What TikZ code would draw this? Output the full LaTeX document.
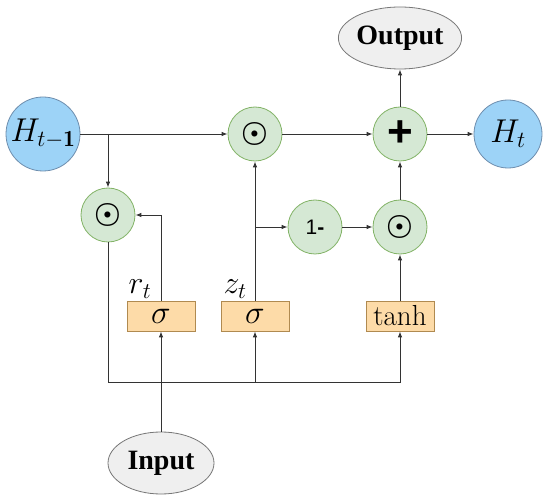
\RequirePackage{fix-cm}
\documentclass[tikz,border=0pt]{standalone}
\usepackage{amsmath,bm}
\usepackage{fontspec}
\newfontfamily\serifb{Liberation Serif}
\newfontfamily\sansf{Liberation Sans}
\usetikzlibrary{arrows.meta,shapes.geometric}
\definecolor{gfill}{HTML}{D5E8D4}
\definecolor{gdraw}{HTML}{82B366}
\definecolor{bfill}{HTML}{9DD3F7}
\definecolor{bdraw}{HTML}{6E8EAE}
\definecolor{ofill}{HTML}{FDDBA8}
\definecolor{odraw}{HTML}{B08A50}
\definecolor{efill}{HTML}{EFEFEF}
\definecolor{edraw}{HTML}{777777}
\definecolor{lcol}{HTML}{333333}
\begin{document}
\begin{tikzpicture}[x=1pt,y=-1pt,
  gc/.style={circle,draw=gdraw,fill=gfill,minimum size=54pt,inner sep=0pt,line width=0.8pt},
  bc/.style={circle,draw=bdraw,fill=bfill,inner sep=0pt,line width=0.8pt,font=\fontsize{33}{36}\selectfont},
  fbox/.style={rectangle,draw=odraw,fill=ofill,minimum width=68pt,minimum height=30pt,inner sep=0pt,line width=0.8pt,font=\fontsize{29}{30}\selectfont},
  sig/.style={font=\fontsize{33}{30}\selectfont},
  ell/.style={ellipse,draw=edraw,fill=efill,inner sep=0pt,line width=0.8pt,font=\serifb\bfseries\fontsize{28}{32}\selectfont},
  lab/.style={inner sep=0pt,font=\fontsize{32}{34}\selectfont},
  arr/.style={draw=lcol,line width=0.9pt,-{Latex[length=6pt,width=4.5pt]}},
  dotsym/.style={font=\fontsize{30}{30}\selectfont}]
\useasboundingbox (0,0) rectangle (550,500);
\fill[white] (0,0) rectangle (550,500);
% nodes
\node[bc,minimum size=74pt] (hp) at (43,134) {$H_{t-\mathbf{1}}$};
\node[gc,dotsym] (o1) at (255,134) {$\bm{\odot}$};
\node[gc,font=\sansf\bfseries\fontsize{44}{44}\selectfont] (pl) at (400,134) {+};
\node[bc,minimum size=68pt] (ht) at (508,134) {$H_t$};
\node[ell,minimum width=104pt,minimum height=62pt] (out) at (400,38) {Output};
\node[gc,font=\sansf\fontsize{21}{24}\selectfont] (om) at (315,227) {1\textbf{-}};
\node[gc,dotsym] (o3) at (400,227) {$\bm{\odot}$};
\node[gc,dotsym] (o2) at (108,215) {$\bm{\odot}$};
\node[fbox,sig] (sr) at (161,316) {$\sigma$};
\node[fbox,sig] (sz) at (255,316) {$\sigma$};
\node[fbox] (th) at (400,316) {tanh};
\node[ell,minimum width=106pt,minimum height=62pt] (in) at (161,463) {Input};
\node[lab] (rl) at (140,289) {$r_t$};
\node[lab] (zl) at (235,289) {$z_t$};
\coordinate (bus) at (0,382);
% connectors
\draw[arr] (hp.east) -- (o1.west);
\draw[arr] (o2 |- hp) -- (o2.north);
\draw[arr] (sr.north) |- (o2.east);
\draw[arr] (o2.south) -- (o2.south |- bus) -| (th.south);
\draw[arr] (in.north) -- (sr.south);
\draw[arr] (sz.south |- bus) -- (sz.south);
\draw[arr] (sz.north) -- (o1.south);
\draw[arr] (sz.north |- om) -- (om.west);
\draw[arr] (om) -- (o3);
\draw[arr] (th) -- (o3);
\draw[arr] (o3) -- (pl);
\draw[arr] (o1) -- (pl);
\draw[arr] (pl) -- (ht);
\draw[arr] (pl) -- (out);
\end{tikzpicture}
\end{document}
